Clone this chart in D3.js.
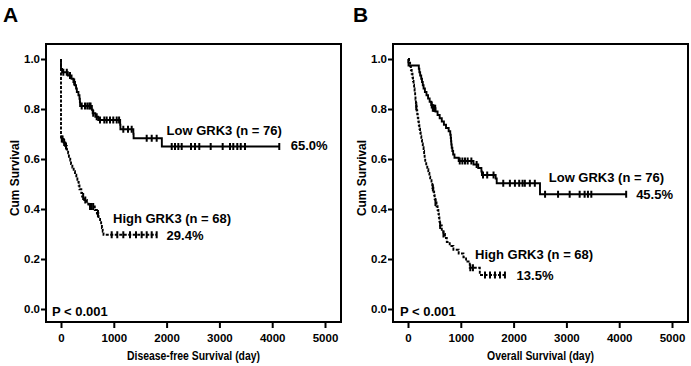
<!DOCTYPE html>
<html>
<head>
<meta charset="utf-8">
<script src="https://cdn.jsdelivr.net/npm/d3@7"></script>
<style>
  body { margin: 0; background: #fff; }
  text { font-family: "Liberation Sans", Arial, sans-serif; font-weight: bold; fill: #000; }
</style>
</head>
<body>
<svg id="chart"></svg>
<script>
var xTicks = [0, 1000, 2000, 3000, 4000, 5000];
var yTicks = [0, 0.2, 0.4, 0.6, 0.8, 1.0];

// panel A: disease-free survival, [day, survival after the drop]
var dfsLowSteps = [[0,0.96],[20,0.947],[130,0.934],[200,0.921],[235,0.908],[265,0.895],[285,0.882],[300,0.868],[330,0.855],[350,0.841],[358,0.827],[362,0.812],[585,0.797],[600,0.783],[650,0.769],[705,0.756],[1120,0.737],[1125,0.719],[1370,0.701],[1375,0.683],[1910,0.65]];
var dfsLowCensor = [44,110,170,250,392,455,498,536,560,610,676,739,820,865,928,990,1055,1100,1180,1269,1339,1623,1718,1812,2097,2159,2222,2286,2462,2538,2619,2835,3062,3201,3263,3339,3404,3485,4134];
var dfsHighSteps = [[0,0.68],[50,0.666],[80,0.652],[110,0.638],[135,0.623],[150,0.609],[175,0.594],[190,0.58],[215,0.566],[240,0.551],[265,0.537],[290,0.522],[310,0.508],[335,0.494],[350,0.479],[385,0.464],[400,0.45],[440,0.436],[490,0.421],[520,0.41],[640,0.396],[680,0.382],[710,0.368],[740,0.352],[760,0.338],[775,0.324],[790,0.31],[805,0.297]];
var dfsHighCensor = [15,30,60,95,420,460,550,580,610,700,960,1066,1180,1307,1420,1528,1623,1718,1812];

// panel B: overall survival
var osLowSteps = [[5,0.987],[10,0.974],[205,0.961],[215,0.947],[230,0.934],[250,0.921],[265,0.908],[280,0.895],[295,0.882],[320,0.868],[350,0.855],[380,0.842],[410,0.829],[440,0.816],[470,0.803],[520,0.79],[560,0.776],[600,0.763],[640,0.75],[680,0.737],[720,0.724],[770,0.711],[800,0.697],[810,0.684],[815,0.671],[820,0.658],[828,0.645],[840,0.632],[855,0.618],[880,0.605],[960,0.592],[1240,0.578],[1330,0.564],[1390,0.55],[1400,0.536],[1660,0.522],[1680,0.503],[2500,0.459]];
var osLowCensor = [450,470,490,500,515,980,1030,1080,1130,1200,1300,1420,1500,1620,1804,1930,2025,2106,2170,2213,2308,2402,2596,2842,3062,3251,3345,3408,3472,4132];
var osHighSteps = [[20,0.985],[40,0.971],[55,0.956],[70,0.941],[85,0.926],[95,0.912],[105,0.897],[115,0.882],[125,0.868],[135,0.853],[142,0.838],[150,0.824],[157,0.809],[165,0.794],[175,0.779],[185,0.765],[195,0.75],[205,0.735],[215,0.721],[228,0.706],[240,0.691],[252,0.676],[265,0.662],[280,0.647],[295,0.632],[305,0.618],[315,0.603],[326,0.588],[345,0.574],[365,0.559],[385,0.544],[405,0.529],[420,0.515],[445,0.5],[460,0.485],[480,0.47],[495,0.455],[505,0.44],[520,0.426],[540,0.411],[560,0.396],[575,0.381],[585,0.366],[595,0.35],[605,0.334],[640,0.317],[670,0.3],[700,0.284],[735,0.268],[790,0.252],[860,0.237],[960,0.222],[1050,0.207],[1100,0.19],[1170,0.165],[1360,0.136]];
var osHighCensor = [157,471,520,609,672,1180,1230,1458,1553,1647,1742,1836];

var svgWidth = 691, svgHeight = 366;
var svg = d3.select("#chart")
    .attr("width", svgWidth)
    .attr("height", svgHeight);

var panels = [
  { letter: "A", letterX: 3, offset: 0, title: "Disease-free Survival (day)",
    low: dfsLowSteps, lowCensor: dfsLowCensor, high: dfsHighSteps, highCensor: dfsHighCensor,
    labels: [["Low GRK3 (n = 76)", 2000, 0.698], ["65.0%", 4350, 0.636],
             ["High GRK3 (n = 68)", 985, 0.344], ["29.4%", 2000, 0.276]] },
  { letter: "B", letterX: 6, offset: 347, title: "Overall Survival (day)",
    low: osLowSteps, lowCensor: osLowCensor, high: osHighSteps, highCensor: osHighCensor,
    labels: [["Low GRK3 (n = 76)", 2666, 0.51], ["45.5%", 4321, 0.44],
             ["High GRK3 (n = 68)", 1270, 0.2], ["13.5%", 2057, 0.116]] }
];

var box = { left: 46, top: 44, right: 341, bottom: 322 };

var x = d3.scaleLinear().domain([0, 5000]).range([61, 325]);
var y = d3.scaleLinear().domain([0, 1]).range([309, 59]);

// survival value at time t
function survAt(steps, t) {
  var s = 1;
  steps.forEach(function(d) { if (d[0] <= t) s = d[1]; });
  return s;
}

var line = d3.line()
    .x(function(d) { return x(d[0]); })
    .y(function(d) { return y(d[1]); })
    .curve(d3.curveStepAfter);

panels.forEach(function(p) {
  var g = svg.append("g").attr("transform", "translate(" + p.offset + ",0)");

  g.append("text")
      .attr("x", p.letterX)
      .attr("y", 22)
      .style("font-size", "21px")
      .text(p.letter);

  g.append("rect")
      .attr("x", box.left)
      .attr("y", box.top)
      .attr("width", box.right - box.left)
      .attr("height", box.bottom - box.top)
      .attr("fill", "none")
      .attr("stroke", "#000")
      .attr("stroke-width", 2);

  var yAxis = g.append("g")
      .attr("transform", "translate(" + box.left + ",0)")
      .call(d3.axisLeft(y).tickValues(yTicks).tickFormat(d3.format(".1f")).tickSize(5).tickPadding(1));
  yAxis.select(".domain").remove();

  var xAxis = g.append("g")
      .attr("transform", "translate(0," + box.bottom + ")")
      .call(d3.axisBottom(x).tickValues(xTicks).tickFormat(d3.format("d")).tickSize(6).tickPadding(6));
  xAxis.select(".domain").remove();

  g.selectAll(".tick line").attr("stroke", "#000").attr("stroke-width", 2);
  g.selectAll(".tick text")
      .attr("fill", "#000")
      .style("font-size", "11.5px")
      .style("font-family", "'Liberation Sans', Arial, sans-serif")
      .style("font-weight", "bold");

  g.append("text")
      .attr("transform", "rotate(-90)")
      .attr("x", -178)
      .attr("y", 18.5)
      .attr("text-anchor", "middle")
      .style("font-size", "12px")
      .attr("textLength", 76)
      .attr("lengthAdjust", "spacingAndGlyphs")
      .text("Cum Survival");

  g.append("text")
      .attr("x", (box.left + box.right) / 2)
      .attr("y", 360)
      .attr("text-anchor", "middle")
      .style("font-size", "12px")
      .attr("textLength", p.title.length > 24 ? 133 : 107)
      .attr("lengthAdjust", "spacingAndGlyphs")
      .text(p.title);

  var series = [
    { steps: p.low, censor: p.lowCensor, dash: null },
    { steps: p.high, censor: p.highCensor, dash: "3,1.5" }
  ];

  series.forEach(function(s) {
    var end = d3.max(s.censor);
    var pts = [[0, 1]].concat(s.steps).concat([[end, s.steps[s.steps.length - 1][1]]]);
    g.append("path")
        .datum(pts)
        .attr("fill", "none")
        .attr("stroke", "#000")
        .attr("stroke-width", 1.9)
        .attr("stroke-dasharray", s.dash)
        .attr("d", line);

    g.selectAll(null)
        .data(s.censor)
        .enter()
        .append("line")
        .attr("x1", function(d) { return x(d); })
        .attr("x2", function(d) { return x(d); })
        .attr("y1", function(d) { return y(survAt(s.steps, d)) - 3.5; })
        .attr("y2", function(d) { return y(survAt(s.steps, d)) + 3.5; })
        .attr("stroke", "#000")
        .attr("stroke-width", 2);
  });

  p.labels.forEach(function(l) {
    g.append("text")
        .attr("x", x(l[1]))
        .attr("y", y(l[2]))
        .style("font-size", "13px")
        .text(l[0]);
  });

  g.append("text")
      .attr("x", p.offset ? 53 : 52)
      .attr("y", 316)
      .style("font-size", "13px")
      .text("P < 0.001");
});
</script>
</body>
</html>
